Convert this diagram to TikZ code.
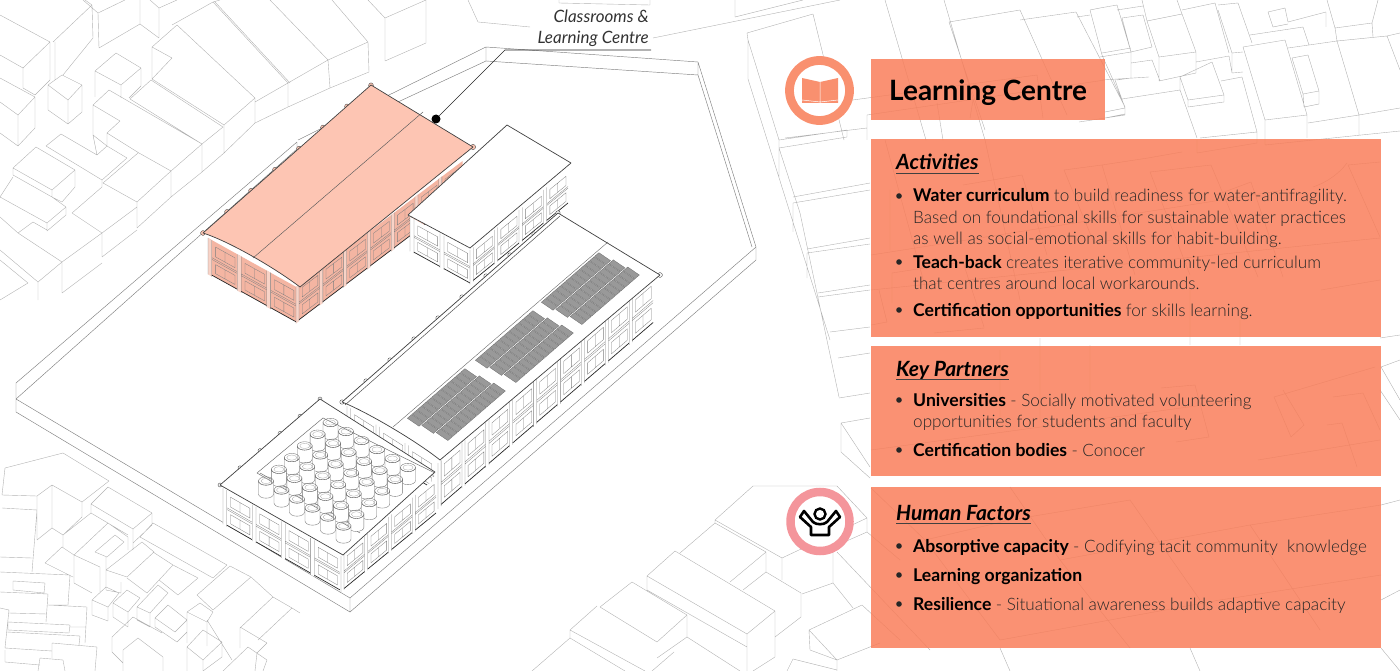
\documentclass[tikz,border=0pt]{standalone}
\usepackage{fontspec}
\setmainfont{Lato}
\newfontfamily\lightfont{Lato Light}
\definecolor{paneltone}{HTML}{F97E5A}
\definecolor{ringorange}{HTML}{F9906F}
\definecolor{pinkroof}{HTML}{FDC5B3}
\definecolor{pinkwall}{HTML}{F4B5A2}
\definecolor{ringpink}{HTML}{F4959B}
\tikzset{
  bgline/.style={draw=black!30,line width=.4pt,line join=round},
  siteline/.style={draw=black!50,line width=.45pt},
  roofline/.style={draw=black!75,line width=.7pt,line join=round},
  bayline/.style={draw=black!50,line width=.3pt},
  baybase/.style={draw=black!85,line width=.7pt},
  leader/.style={draw=black!85,line width=.6pt},
  infopanel/.style={fill=paneltone,fill opacity=.85},
  headtext/.style={anchor=base west,font=\fontsize{21}{24}\selectfont\bfseries\itshape,inner sep=0pt},
  bodytext/.style={anchor=base west,font=\fontsize{17.1}{20}\selectfont,inner sep=0pt},
  tagtext/.style={anchor=base east,font=\fontsize{17}{20}\selectfont\itshape,fill=white,inner sep=1pt,text=black!80}
}
\newcommand{\lighttext}[1]{{\lightfont\color{black!85}#1}}
\newcommand{\boldtext}[1]{{\fontsize{17.6}{20}\selectfont\bfseries #1}}
% one wall of a building: x, y, dx, dy, height, bays, colour
\newcommand{\baywall}[7]{
  \foreach \k in {1,...,#6}{
    \begin{scope}[shift={({#1+(\k-1)*(#3)},{#2+(\k-1)*(#4)})},x={(#3pt,{(#4)*-1pt})},y={(0pt,-#5pt)}]
      \fill[#7] (0,0)--(1,0)--(1,1)--(0,1)--cycle;
      \fill[#7!60!white] (0,0)--(.13,0)--(.13,1.04)--(0,1.04)--cycle;
      \draw[bayline] (0,0)--(0,1.04) (.13,0)--(.13,1.04) (.13,.5)--(1,.5) (.13,.55)--(1,.55);
      \draw[bayline] (.26,.14)--(.92,.14)--(.92,.42)--(.26,.42)--cycle (.58,.14)--(.58,.42);
      \draw[bayline] (.26,.64)--(.92,.64)--(.92,.9)--(.26,.9)--cycle (.58,.64)--(.58,.9);
      \draw[baybase] (.13,1)--(1,1);
    \end{scope}
  }
}
% one field of solar modules
\newcommand{\solarfield}[2]{
  \begin{scope}[shift={(#1,#2)},x={(58pt,50pt)},y={(38pt,-26pt)}]
    \foreach \r in {0,1,2}{
      \foreach \c in {0,...,11}{
        \draw[fill=black!40,draw=black!60,line width=.25pt]
          ({\c/12+\r*.03},{\r/3+.01})--({(\c+.9)/12+\r*.03},{\r/3+.01})--({(\c+.9)/12+\r*.03},{(\r+.95)/3})--({\c/12+\r*.03},{(\r+.95)/3})--cycle;
      }
    }
  \end{scope}
}
\begin{document}
\begin{tikzpicture}[x=1pt,y=-1pt]
  \useasboundingbox (0,0) rectangle (1400,671);
  % neighbours, top left
  \draw[bgline] (0,15)--(50,42)--(23,68)--(0,55) (23,68)--(23,88) (50,42)--(50,80) (23,88)--(35,95)--(50,80)
    (0,78)--(35,97)--(18,115)--(0,102) (18,115)--(18,146) (35,97)--(35,128)--(18,146)--(0,133)
    (53,42)--(92,5)--(85,0) (92,5)--(93,38)--(63,75) (55,42)--(55,80)
    (83,0)--(98,13)--(99,48)--(140,24)--(140,0) (98,13)--(125,0)
    (140,24)--(159,38)--(159,8)--(177,0) (159,8)--(150,0)
    (48,85)--(62,75)--(82,85)--(68,100)--cycle (48,85)--(48,110)--(68,124)--(82,112)--(82,85) (68,100)--(68,124)
    (95,71)--(116,53)--(141,68)--(121,85)--cycle (95,71)--(95,97) (121,85)--(121,98) (141,68)--(141,86)--(129,98)
    (93,105)--(109,90)--(202,144)--(171,171)--(139,153)--(107,133)--(120,121)--cycle
    (93,105)--(93,135)--(107,146) (107,133)--(107,146) (202,144)--(202,172)--(171,197) (171,171)--(171,197)
    (93,135)--(97,155)--(107,146) (97,155)--(61,134)--(46,146)--(102,180)--(127,158) (107,146)--(127,158)
    (138,153)--(103,183)--(137,202)--(171,171) (137,202)--(137,228)--(171,197) (102,180)--(102,187)
    (102,187)--(72,213)--(102,233)--(137,207) (102,233)--(102,257)--(137,230)
    (13,168)--(36,147)--(75,170)--(52,190)--cycle (13,168)--(13,175)--(52,197)--(52,190) (75,170)--(75,187)--(62,202) (52,197)--(62,202)
    (0,197)--(13,177) (0,197)--(47,223)--(66,207)--(52,197) (47,223)--(47,231)--(66,215)--(66,207)
    (0,217)--(18,233)--(33,222)--(47,230) (18,233)--(62,262)--(62,293) (62,262)--(102,233) (62,293)--(102,263)
    (0,250)--(38,282)--(62,262) (38,282)--(38,300) (0,260)--(28,283)--(0,300)
    (152,47)--(177,25)--(255,98)--(224,125)--(152,79)--cycle (152,47)--(172,58)--(152,79)
    (224,125)--(224,153)--(255,123)--(255,98) (151,80)--(223,127) (130,99)--(151,80) (130,99)--(202,144)
    (202,144)--(223,127) (202,172)--(224,153)
    (172,25)--(213,2)--(288,83)--(255,102) (288,83)--(288,107)--(255,123) (215,2)--(290,83)
    (213,2)--(220,0) (270,0)--(328,60)--(288,83) (328,60)--(330,88)--(288,107)
    (332,0)--(368,42)--(328,60) (368,42)--(369,72)--(330,88)
    (368,0)--(385,18)--(385,61)--(426,43)--(426,0) (385,18)--(426,0)
    (468,0)--(478,22)--(530,27) (559,0)--(559,3)--(650,5)--(650,0) (653,38)--(840,0) (735,0)--(735,17)--(803,0);
  % neighbours, bottom left
  \draw[bgline] (5,468)--(63,453)--(109,481)--(82,502)--(52,485)--(37,496)--(37,540)--(52,528)--(63,535)
    (52,485)--(52,528) (82,502)--(82,517)--(63,535) (5,468)--(2,495)--(37,496) (2,508)--(37,510) (37,510)--(32,572) (0,557)--(32,558)
    (91,504)--(108,487)--(152,513)--(133,529)--cycle (91,504)--(91,513)--(128,535) (133,529)--(133,550) (152,513)--(152,525)--(133,543)
    (63,535)--(91,513) (74,555)--(108,523)--(128,537)--(128,550) (74,555)--(74,583)--(92,593) (74,555)--(100,567)--(100,593)
    (95,552)--(115,535)--(124,542)--(107,557)--cycle (106,557)--(106,587) (45,563)--(62,547)--(74,555) (45,563)--(73,577) (63,535)--(63,547)
    (106,570)--(142,542)--(154,552)--(127,577)--cycle (106,570)--(106,590)--(121,593) (121,593)--(121,582)
    (127,578)--(147,593)--(173,565)--(153,552) (159,580)--(178,595)--(198,578)--(173,565)
    (140,537)--(213,578)--(227,565)--(153,523)--cycle (197,595)--(230,566)--(251,577)--(213,610)--cycle
    (251,577)--(273,597)--(240,628) (207,620)--(232,660) (240,628)--(240,648) (273,597)--(292,608)--(258,640) (292,608)--(300,613)
    (92,600)--(106,587)--(119,593)--(108,607)--cycle (92,600)--(92,615)--(108,621)--(108,607)
    (113,603)--(127,590)--(140,598)--(128,612)--cycle (113,603)--(113,617)--(128,627)--(128,612)
    (137,607)--(158,585)--(168,593)--(150,613)--cycle (137,607)--(137,620)--(150,627)--(150,613)
    (155,618)--(168,605)--(187,620)--(175,632)--cycle (155,618)--(155,627)--(177,642)--(187,632)--(187,620)
    (187,612)--(200,603)--(213,612)--(207,622)--cycle (187,612)--(187,643) (207,622)--(207,646)
    (112,637)--(133,617)--(162,633) (112,637)--(112,652)--(123,663)--(123,650) (123,650)--(138,638)--(163,657)--(163,671) (123,663)--(123,671)
    (187,647)--(203,630)--(222,642)--(203,660)--cycle (187,647)--(187,671) (203,660)--(203,671) (222,642)--(222,657)--(203,671)
    (240,627)--(267,643)--(257,653)--(255,671) (223,671)--(248,647)--(267,660)--(263,671)
    (0,572)--(70,575)--(68,605)--(48,605) (13,581)--(45,583)--(44,593)--(13,590)--cycle (0,592)--(48,594)--(46,622)
    (48,605)--(87,607)--(85,643) (0,608)--(9,610)--(5,648) (9,613)--(47,614) (8,622)--(70,625)--(69,633)--(8,630)--cycle
    (70,627)--(86,627) (7,632)--(80,636)--(79,645) (5,648)--(52,651) (52,643)--(97,647)--(95,671) (52,643)--(52,658)
    (5,650)--(5,662)--(40,665) (40,658)--(63,660)--(65,671) (40,658)--(38,671);
  % neighbours, bottom middle
  \draw[bgline] (753,486)--(837,486)--(867,518)--(782,558)--(715,520)--cycle (715,520)--(715,523)--(766,552) (782,558)--(782,580)
    (867,518)--(867,532)--(833,547) (833,547)--(833,583)--(802,594) (833,583)--(853,608) (867,532)--(900,560) (837,552)--(930,650)
    (809,630)--(862,605)--(900,640) (809,630)--(810,650)--(837,660)--(837,671) (837,660)--(880,643) (809,630)--(837,660)
    (715,523)--(680,553) (766,552)--(766,572)--(743,590) (766,572)--(801,593)--(801,617)--(775,637) (730,582)--(766,552)
    (675,551)--(647,576)--(747,634)--(775,611)--cycle (647,576)--(647,590)--(747,647) (747,634)--(747,671) (775,611)--(775,657)--(753,671)
    (632,582)--(600,607)--(657,642)--(687,615)--cycle (597,606)--(570,630)--(645,671) (570,630)--(570,638)--(625,671) (570,638)--(532,671)
    (674,652)--(652,671) (687,615)--(687,637)--(657,658) (687,637)--(740,671) (793,659)--(787,671) (793,659)--(837,670);
  % neighbours, right
  \draw[bgline] (748,40)--(748,79) (748,40)--(779,140) (748,79)--(830,340) (779,140)--(847,130)--(847,137)--(779,148)
    (779,140)--(779,178) (779,148)--(800,213)--(839,397) (793,197)--(870,183) (793,203)--(870,190) (793,203)--(793,232)
    (807,249)--(870,238) (807,253)--(870,244) (807,253)--(807,278) (818,293)--(870,285) (818,297)--(870,290)
    (830,332)--(870,327) (838,358)--(870,353) (839,398)--(870,393) (841,423)--(870,418) (841,423)--(841,452)--(870,478) (841,423)--(870,467)
    (747,33)--(813,14)--(844,140) (747,33)--(748,40) (885,0)--(926,140) (944,0)--(985,140)
    (949,22)--(1020,10)--(1067,115) (1020,20)--(1076,12)--(1125,107) (949,22)--(985,130)
    (838,102)--(1037,75) (867,115)--(1105,80) (867,115)--(867,140) (785,138)--(867,128)
    (973,100)--(970,118) (937,103)--(943,140) (1037,75)--(1043,118) (1077,17)--(1090,15) (1090,10)--(1102,55)--(1125,107)
    (1102,53)--(1131,48) (1102,80)--(1149,77)
    (1079,122)--(1125,115)--(1125,107) (1090,10)--(1100,8)--(1117,5)--(1131,52)--(1131,78)--(1117,80)
    (1100,57)--(1131,52) (1117,10)--(1143,6) (1122,18)--(1143,15) (1122,18)--(1131,52) (1131,52)--(1152,47)--(1143,15)
    (1131,63)--(1152,60)--(1160,81) (1147,21)--(1182,14)--(1196,52)--(1159,57)--cycle (1159,57)--(1159,81)--(1196,73)--(1196,52)
    (1142,0)--(1147,21) (1177,0)--(1182,14) (1182,10)--(1215,3)--(1229,53) (1196,62)--(1229,56)--(1232,73)
    (1218,5)--(1238,3)--(1252,43) (1232,53)--(1243,52) (1232,53)--(1232,73)--(1243,72) (1218,10)--(1232,53)
    (1180,77)--(1212,62)--(1224,95)--(1188,100)--cycle (1180,77)--(1180,90) (1188,100)--(1188,107)--(1224,102)--(1224,95)
    (1122,99)--(1180,90)--(1197,138) (1115,80)--(1125,108) (1105,118)--(1125,114)--(1125,108)--(1105,112)
    (1221,81)--(1242,77)--(1257,132)--(1257,143) (1197,153)--(1257,143) (1200,138)--(1257,132) (1197,140)--(1197,153)
    (1243,47)--(1285,40)--(1307,115)--(1265,120)--cycle (1265,120)--(1265,145) (1307,115)--(1307,138) (1265,145)--(1400,131)
    (1250,35)--(1303,27)--(1309,45) (1288,48)--(1337,41)--(1359,115)--(1308,123) (1337,41)--(1387,36)--(1400,70)
    (1359,115)--(1400,108) (1359,115)--(1359,135) (1292,58)--(1308,55)--(1319,91)--(1303,94)--cycle (1303,94)--(1304,107)--(1319,104)--(1319,91)
    (1335,28)--(1372,23) (1327,0)--(1335,28)--(1337,41) (1378,0)--(1372,23)--(1373,37) (1268,12)--(1285,8)--(1288,22)--(1326,12)--(1326,27)
    (1273,27)--(1288,24) (1268,12)--(1273,27) (1387,36)--(1400,33)
    (1064,170)--(1102,165)--(1148,158)--(1182,152) (1064,170)--(1094,243)--(1131,237) (1150,172)--(1211,165)--(1258,277)
    (1216,195)--(1251,182)--(1283,277) (963,185)--(1022,175)--(1047,255) (1102,165)--(1135,275) (934,333)--(984,328)
    (892,273)--(963,262)--(984,327) (892,273)--(892,303) (879,290)--(887,322)--(871,325)
    (1321,290)--(1380,280) (1348,165)--(1380,162) (1348,165)--(1380,237) (885,140)--(926,290) (985,140)--(1020,300)
    (1313,187) .. controls (1325,183) and (1338,175) .. (1347,163)
    (871,255)--(1285,190) (871,290)--(1380,238) (890,190)--(890,250) (1190,290)--(1190,345) (1040,345)--(1040,420) (1000,350)--(1000,420)
    (1150,172)--(1190,275) (1040,338)--(1040,345) (1090,345)--(1090,400) (1240,320)--(1240,345)
    (1274,397)--(1375,367) (1274,397)--(1291,437)--(1304,425)--(1283,390) (1161,388)--(1195,385)--(1209,437)
    (1176,442)--(1209,437) (1258,460)--(1380,440) (1327,425)--(1342,423)--(1357,467) (1333,397)--(1363,393)--(1380,430)
    (871,450)--(1240,400) (1380,338)--(1400,335) (1380,390)--(1400,420) (1400,360)--(1381,367)--(1400,400)
    (871,488)--(925,540)--(1000,640) (1010,487)--(1060,560)--(1130,648) (925,540)--(1010,520)--(1130,500) (1130,500)--(1200,600)
    (1060,560)--(1250,525)--(1381,505) (1250,525)--(1320,630) (1000,640)--(1220,600)--(1381,575) (1381,600)--(1400,590) (1400,500)--(1381,505)
    (1381,648)--(1400,671) (1000,648)--(1010,671) (1190,648)--(1200,671);
  % the site
  \fill[white] (16,399)--(297,149)--(486,61)--(698,75)--(752,247)--(350,598)--cycle;
  \draw[siteline] (16,412)--(16,383)--(297,142) (16,399)--(297,149)--(486,61) (297,142)--(297,149) (298,140)--(486,47)--(698,62)--(756,247)--(756,260)--(350,612)--(16,412)
    (16,399)--(350,598)--(756,247) (350,598)--(350,612) (486,47)--(486,61)--(698,75)--(752,247) (698,62)--(698,75);
  % learning centre building
  \baywall{208}{238}{29.4}{16.3}{35}{3}{pinkwall}
  \baywall{296}{287}{23.8}{-18}{35}{7}{pinkwall}
  \foreach \t in {0,...,7}{
    \fill[pinkroof,draw=black!70,line width=.4pt] ({203+\t*24},{233-\t*21.1}) circle[radius=2.4pt];
  }
  \fill[pinkroof,draw=black!70,line width=.4pt] (473,147) circle[radius=2.6pt];
  \draw[roofline,fill=pinkroof] (203,233) .. controls (228,241) and (272,266) .. (300,287)--(473,147)--(371,85)--cycle;
  \draw[draw=black!65,line width=.45pt] (253,258)--(423,112);
  % middle building
  \baywall{410}{217}{30}{16.5}{33}{2}{white}
  \baywall{470}{250}{24.5}{-20}{33}{4}{white}
  \draw[roofline,fill=white] (408,215)--(470,248)--(571,163)--(507,125)--cycle;
  % long building
  \baywall{347}{406}{29}{18.5}{28}{3}{white}
  \baywall{438}{463}{23.9}{-20.5}{44}{9}{white}
  \foreach \t in {0,...,9}{
    \fill[white,draw=black!70,line width=.4pt] ({342+\t*24},{402-\t*21}) circle[radius=2.2pt];
  }
  \fill[white,draw=black!70,line width=.4pt] (660,275) circle[radius=2.4pt];
  \draw[roofline,fill=white] (342,402) .. controls (365,411) and (415,440) .. (440,460)--(660,275)--(558,213)--cycle;
  \draw[draw=black!70,line width=.5pt] (345,405)--(560,216);
  \draw[draw=black!60,line width=.4pt] (393,427)--(608,242);
  \solarfield{407}{418}
  \solarfield{475}{360}
  \solarfield{541}{302}
  % water tank building
  \baywall{223}{488}{29.2}{16.7}{35}{4}{white}
  \baywall{341}{556}{23.75}{-19.5}{35}{4}{white}
  \foreach \t in {0,...,5}{
    \fill[white,draw=black!70,line width=.4pt] ({220+\t*20},{485-\t*17.2}) circle[radius=2pt];
  }
  \draw[roofline,fill=white] (220,485)--(343,555)--(435,472)--(320,399)--cycle;
  \draw[draw=black!60,line width=.45pt] (257,473)--(323,418)--(435,473) (257,473)--(360,533)
    (260,473)--(363,530);
  \foreach \r in {5,4,...,0}{
    \foreach \c in {0,...,5}{
      \begin{scope}[shift={({266+15.5*\c+12.9*\r},{481+9*\c-11.7*\r})}]
        \draw[fill=white,draw=black!55,line width=.35pt] (-7.5,0)--(-7.5,13) arc[start angle=180,end angle=360,x radius=7.5pt,y radius=4.2pt]--(7.5,0) arc[start angle=0,end angle=-180,x radius=7.5pt,y radius=4.2pt]--cycle;
        \draw[draw=black!55,line width=.35pt] (0,0) ellipse[x radius=7.5pt,y radius=4.2pt];
        \draw[draw=black!35,line width=.3pt] (0,0) ellipse[x radius=5pt,y radius=2.6pt];
      \end{scope}
    }
  }
  % label with its leader
  \node[tagtext] (tagone) at (650,23) {Classrooms \&};
  \node[tagtext] (tagtwo) at (650,43.5) {Learning Centre};
  \node[circle,fill=black,inner sep=0pt,minimum size=9pt] (roofdot) at (436,119) {};
  \coordinate (tagbend) at (505,50);
  \coordinate (tagend) at (651,50);
  \draw[leader] (roofdot)--(tagbend)--(tagend);
  % panels
  \fill[infopanel] (871,59) rectangle (1105,120);
  \fill[infopanel] (871,139) rectangle (1381,337);
  \fill[infopanel] (871,346) rectangle (1381,476);
  \fill[infopanel] (871,487) rectangle (1381,648);
  \node[anchor=base west,inner sep=0pt,font=\fontsize{28}{32}\selectfont\bfseries] (titletext) at (889,101) {Learning Centre};
  % book icon
  \fill[white] (819.5,90.5) circle[radius=26pt];
  \draw[draw=ringorange,line width=8.8pt] (819.5,90.5) circle[radius=30pt];
  \fill[ringorange] (802,78)--(820,82)--(838,78)--(838,103)--(802,103)--cycle;
  \draw[white,line width=.5pt] (820,82)--(820,103) (802,100)--(820,102)--(838,100);
  % person icon
  \fill[white] (820,521.5) circle[radius=25pt];
  \draw[draw=ringpink,line width=8.5pt] (820,521.5) circle[radius=29.5pt];
  \draw[black,line width=2.6pt,line join=round] (811,535)--(811,527)--(800,517)--(804,511)--(813,522) .. controls (816,525) and (824,525) .. (827,522)--(836,511)--(840,517)--(829,527)--(829,535)--cycle;
  \draw[black,line width=2.4pt,fill=white] (820,514) circle[radius=5.5pt];
  % panel headings
  \node[headtext] (headone) at (896,170) {Activities};
  \node[headtext] (headtwo) at (896,376) {Key Partners};
  \node[headtext] (headthree) at (896,520) {Human Factors};
  \foreach \h in {headone,headtwo,headthree}{
    \draw[draw=black!75,line width=.9pt] ([yshift=-3.5pt]\h.base west)--([yshift=-3.5pt]\h.base east);
  }
  % panel text
  \foreach \y in {196,262,310,400,450,546,575,604}{
    \fill[black!85] (899,\y) circle[radius=2.8pt];
  }
  \node[bodytext] (lineone) at (913,202) {\boldtext{Water curriculum} \lighttext{to build readiness for water-antifragility.}};
  \node[bodytext] (linetwo) at (913,223) {\lighttext{Based on foundational skills for sustainable water practices}};
  \node[bodytext] (linethree) at (913,244) {\lighttext{as well as social-emotional skills for habit-building.}};
  \node[bodytext] (linefour) at (913,268) {\boldtext{Teach-back} \lighttext{creates iterative community-led curriculum}};
  \node[bodytext] (linefive) at (913,289) {\lighttext{that centres around local workarounds.}};
  \node[bodytext] (linesix) at (913,316) {\boldtext{Certification opportunities} \lighttext{for skills learning.}};
  \node[bodytext] (lineseven) at (913,406) {\boldtext{Universities} \lighttext{- Socially motivated volunteering}};
  \node[bodytext] (lineeight) at (913,427) {\lighttext{opportunities for students and faculty}};
  \node[bodytext] (linenine) at (913,456) {\boldtext{Certification bodies} \lighttext{- Conocer}};
  \node[bodytext] (lineten) at (913,552) {\boldtext{Absorptive capacity} \lighttext{- Codifying tacit community~ knowledge}};
  \node[bodytext] (lineeleven) at (913,581) {\boldtext{Learning organization}};
  \node[bodytext] (linetwelve) at (913,610) {\boldtext{Resilience} \lighttext{- Situational awareness builds adaptive capacity}};
\end{tikzpicture}
\end{document}
